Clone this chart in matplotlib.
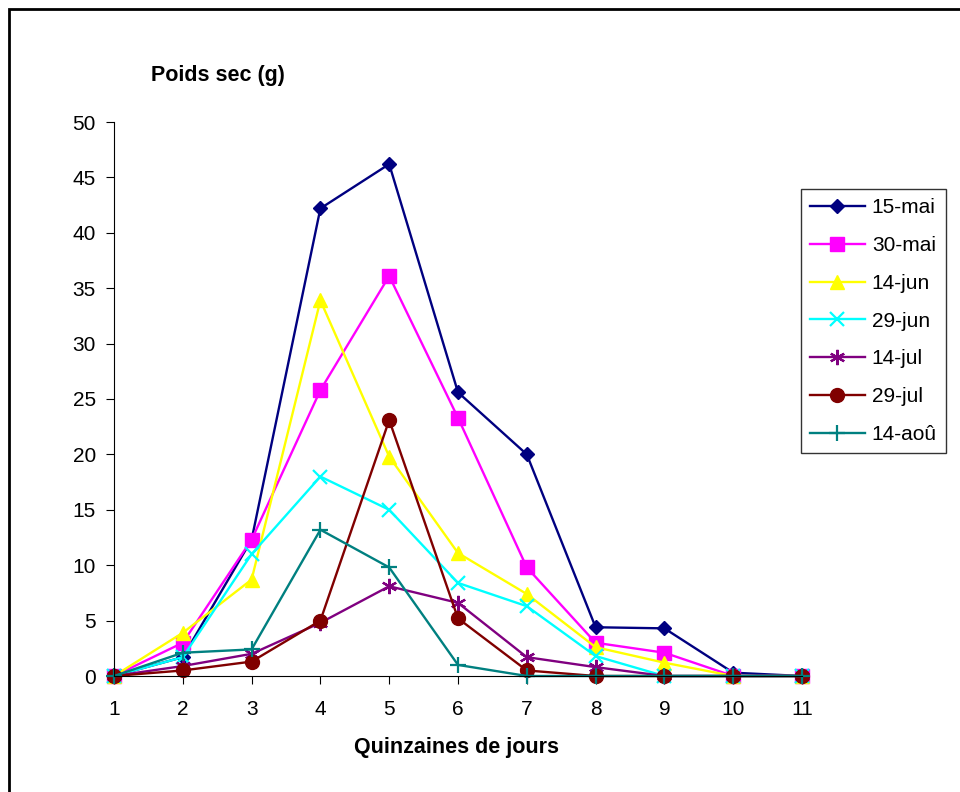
import matplotlib
matplotlib.use("Agg")
from matplotlib import pyplot as plt
from matplotlib.patches import Rectangle

plt.rcParams['font.family'] = ['Liberation Sans', 'DejaVu Sans']

quinzaines = [1, 2, 3, 4, 5, 6, 7, 8, 9, 10, 11]

mai_15 = [0, 1.7, 12.3, 42.2, 46.2, 25.6, 20.0, 4.4, 4.3, 0.3, 0]
mai_30 = [0, 3.0, 12.3, 25.8, 36.1, 23.3, 9.8, 3.0, 2.1, 0, 0]
jun_14 = [0, 3.9, 8.7, 33.9, 19.8, 11.1, 7.4, 2.6, 1.2, 0, 0]
jun_29 = [0, 1.7, 11.0, 18.0, 15.0, 8.4, 6.3, 1.8, 0, 0, 0]
jul_14 = [0, 0.9, 2.0, 4.8, 8.1, 6.6, 1.7, 0.8, 0, 0, 0]
jul_29 = [0, 0.5, 1.3, 5.0, 23.1, 5.2, 0.5, 0, 0, 0, 0]
aou_14 = [0, 2.1, 2.4, 13.2, 9.8, 1.0, 0, 0, 0, 0, 0]

labels = ['15-mai', '30-mai', '14-jun', '29-jun', '14-jul', '29-jul', '14-aoû']
series = [mai_15, mai_30, jun_14, jun_29, jul_14, jul_29, aou_14]
colors = ['#000080', '#FF00FF', '#FFFF00', '#00FFFF', '#800080', '#800000', '#008080']
markers = ['D', 's', '^', 'x', (6, 2, 0), 'o', '+']
sizes = [7.5, 9.5, 9.5, 10, 11, 10, 12]

fig = plt.figure(figsize=(9.6, 7.92), dpi=100)
ax = fig.add_axes([114 / 960, 1 - 676 / 792, (802 - 114) / 960, (676 - 122) / 792])

for vals, lab, col, mk, ms in zip(series, labels, colors, markers, sizes):
    thin = mk in ('x', '+') or isinstance(mk, tuple)
    ax.plot(quinzaines, vals, color=col, marker=mk, markersize=ms, linewidth=1.7,
            markeredgewidth=1.6 if thin else 1.0, label=lab, clip_on=False)

ax.set_xlim(1, 11)
ax.set_ylim(0, 50)
ax.set_xticks(quinzaines)
ax.set_yticks(range(0, 51, 5))
ax.spines['top'].set_visible(False)
ax.spines['right'].set_visible(False)
ax.tick_params(labelsize=15, length=6, width=0.8, direction='out')
ax.tick_params(axis='x', pad=11)
ax.tick_params(axis='y', pad=7)

fig.text(218 / 960, 1 - 75 / 792, 'Poids sec (g)', fontsize=15.5, fontweight='bold',
         ha='center', va='center')
fig.text(457 / 960, 1 - 748 / 792, 'Quinzaines de jours', fontsize=15.5, fontweight='bold',
         ha='center', va='center')

leg = ax.legend(loc='upper left', bbox_to_anchor=(801 / 960, 1 - 189 / 792),
                bbox_transform=fig.transFigure, frameon=True, fancybox=False,
                fontsize=15, borderpad=0.45, labelspacing=0.9, handlelength=2.6,
                handletextpad=0.35, borderaxespad=0)
leg.get_frame().set_edgecolor('black')
leg.get_frame().set_linewidth(1.0)

fig.patches.append(Rectangle((9 / 960, -0.05), 1.1, 1.05 - 9 / 792, transform=fig.transFigure,
                             fill=False, edgecolor='black', linewidth=2))

fig.savefig('out.png', dpi=100)
